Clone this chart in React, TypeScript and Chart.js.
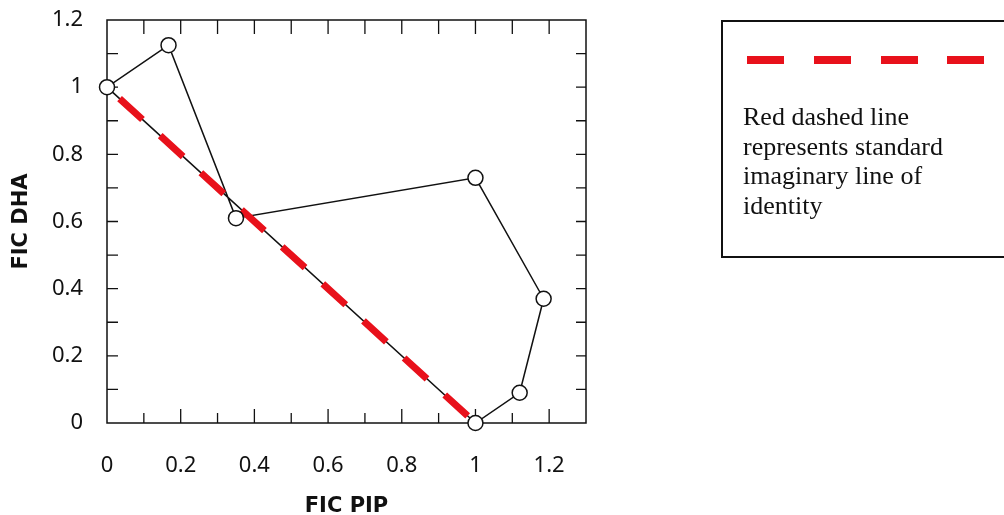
import React, { useEffect, useRef } from "react";
import { Chart, registerables } from "chart.js";

Chart.register(...registerables);

// Data
const pipValues = [0, 0.167, 0.35, 1.0, 1.185, 1.12, 1.0, 0];
const dhaValues = [1, 1.125, 0.61, 0.73, 0.37, 0.09, 0.0, 1];
const markerPip = [0, 0.167, 0.35, 1.0, 1.185, 1.12, 1.0];
const markerDha = [1, 1.125, 0.61, 0.73, 0.37, 0.09, 0.0];
const identityPip = [0, 1];
const identityDha = [1, 0];
const xAxisTitle = "FIC PIP";
const yAxisTitle = "FIC DHA";
const noteLines = ["Red dashed line", "represents standard", "imaginary line of", "identity"];

const RED = "#e8111b";

const fmt = (v: number) => String(Math.round(v * 10) / 10);

const framePlugin = {
  id: "frame",
  beforeDatasetsDraw(chart: any) {
    const { ctx, chartArea: a, scales } = chart;
    const xs = scales.x;
    const ys = scales.y;
    ctx.save();
    ctx.strokeStyle = "#111";
    ctx.lineWidth = 1.5;
    ctx.strokeRect(a.left, a.top, a.right - a.left, a.bottom - a.top);
    ctx.lineWidth = 1.3;
    ctx.beginPath();
    for (let i = 1; i < 13; i++) {
      const px = xs.getPixelForValue(i / 10);
      const major = i % 2 === 0;
      ctx.moveTo(px, a.bottom);
      ctx.lineTo(px, a.bottom - (major ? 14 : 10));
      ctx.moveTo(px, a.top);
      ctx.lineTo(px, a.top + 14);
    }
    for (let i = 1; i < 12; i++) {
      const py = ys.getPixelForValue(i / 10);
      ctx.moveTo(a.left, py);
      ctx.lineTo(a.left + 11, py);
      ctx.moveTo(a.right, py);
      ctx.lineTo(a.right - 10, py);
    }
    ctx.stroke();
    ctx.restore();
  },
  afterDraw(chart: any) {
    const { ctx } = chart;
    ctx.save();
    ctx.strokeStyle = "#111";
    ctx.lineWidth = 2;
    ctx.strokeRect(722, 21, 320, 236);
    ctx.fillStyle = RED;
    const dashStarts = [747, 814, 881, 947];
    dashStarts.forEach((x) => ctx.fillRect(x, 56, 37, 8));
    ctx.fillStyle = "#111";
    ctx.font = "26px 'Liberation Serif'";
    ctx.textBaseline = "middle";
    ctx.textAlign = "left";
    noteLines.forEach((t, i) => ctx.fillText(t, 743, 118 + i * 29.8));
    ctx.restore();
  },
};

export default function App() {
  const ref = useRef<HTMLCanvasElement | null>(null);
  useEffect(() => {
    document.body.style.margin = "0";
    const canvas = ref.current!;
    const chart = new Chart(canvas, {
      type: "scatter",
      data: {
        datasets: [
          {
            label: "markers",
            data: markerPip.map((x, i) => ({ x, y: markerDha[i] })),
            showLine: false,
            pointRadius: 7.5,
            pointBackgroundColor: "#fff",
            pointBorderColor: "#111",
            pointBorderWidth: 1.5,
            clip: false,
            order: 0,
          },
          {
            label: "identity",
            data: identityPip.map((x, i) => ({ x, y: identityDha[i] })),
            showLine: true,
            borderColor: RED,
            borderWidth: 7,
            borderDash: [31, 24],
            borderDashOffset: 38,
            pointRadius: 0,
            order: 1,
          },
          {
            label: "isobologram",
            data: pipValues.map((x, i) => ({ x, y: dhaValues[i] })),
            showLine: true,
            borderColor: "#111",
            borderWidth: 1.5,
            pointRadius: 0,
            order: 2,
          },
        ],
      },
      options: {
        responsive: false,
        animation: false,
        layout: { padding: { top: 20, right: 418, left: 0, bottom: 0 } },
        plugins: { legend: { display: false }, tooltip: { enabled: false } },
        scales: {
          x: {
            type: "linear",
            min: 0,
            max: 1.3,
            afterFit: (s: any) => {
              s.height = 92;
              s.paddingLeft = 0;
              s.paddingRight = 0;
            },
            grid: { display: false, drawTicks: false },
            border: { display: false },
            ticks: {
              stepSize: 0.1,
              padding: 30,
              color: "#111",
              font: { family: "Noto Sans", size: 22 },
              autoSkip: false,
              maxRotation: 0,
              callback: (v: any) => {
                const n = Math.round(Number(v) * 10);
                return n % 2 === 0 && n <= 12 ? fmt(Number(v)) : "";
              },
            },
            title: {
              display: true,
              text: xAxisTitle,
              color: "#111",
              font: { family: "DejaVu Sans", size: 21, weight: "bold" },
              padding: { top: 0, bottom: -4 },
            },
          },
          y: {
            type: "linear",
            min: 0,
            max: 1.2,
            afterFit: (s: any) => {
              s.width = 107;
              s.paddingTop = 0;
              s.paddingBottom = 0;
            },
            grid: { display: false, drawTicks: false },
            border: { display: false },
            ticks: {
              stepSize: 0.1,
              padding: 24,
              color: "#111",
              font: { family: "Noto Sans", size: 22 },
              autoSkip: false,
              callback: (v: any) => {
                const n = Math.round(Number(v) * 10);
                return n % 2 === 0 ? fmt(Number(v)) : "";
              },
            },
            title: {
              display: true,
              text: yAxisTitle,
              color: "#111",
              font: { family: "DejaVu Sans", size: 21, weight: "bold" },
              padding: { top: 9, bottom: 0 },
            },
          },
        },
      },
      plugins: [framePlugin],
    });
    return () => chart.destroy();
  }, []);
  return (
    <div style={{ position: "absolute", left: 0, top: 0, width: 1004, height: 515, background: "#fff" }}>
      <canvas ref={ref} width={1004} height={515} />
    </div>
  );
}
